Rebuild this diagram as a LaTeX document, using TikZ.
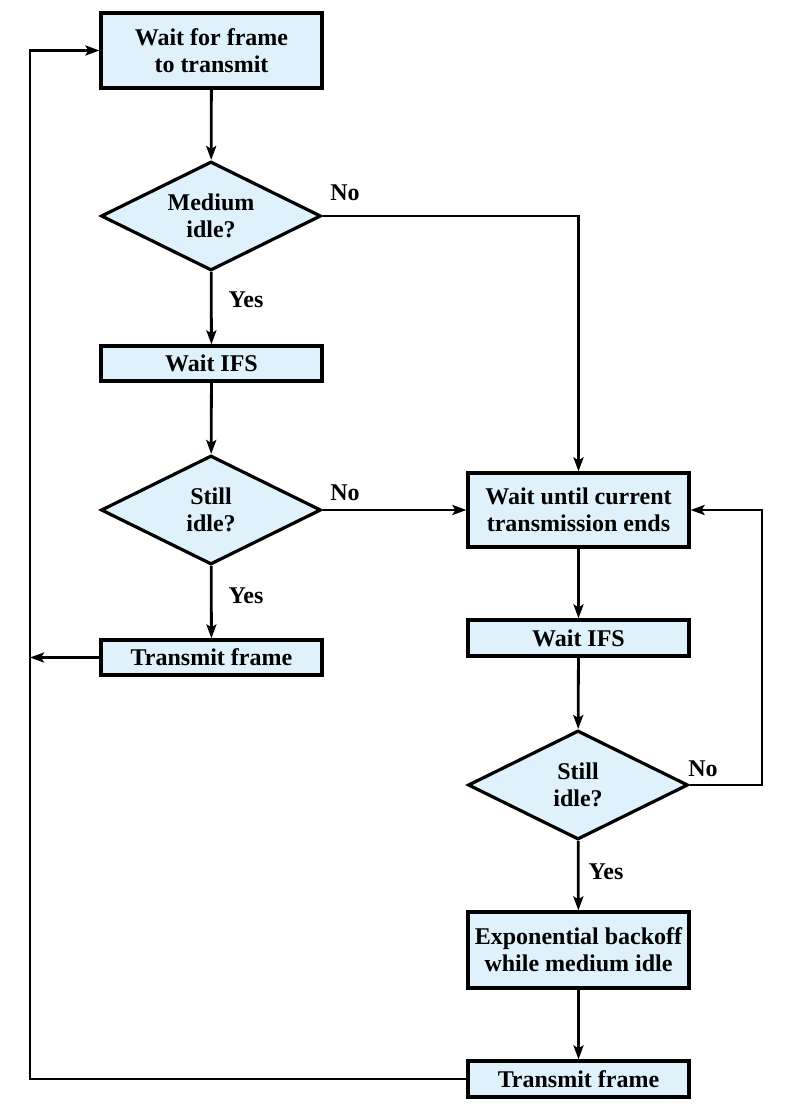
\documentclass[tikz,border=0pt]{standalone}
\usepackage{fontspec}
\setmainfont{Liberation Serif}
\usetikzlibrary{shapes.geometric,arrows.meta}
\definecolor{boxfill}{HTML}{DFF1FB}
\begin{document}
\begin{tikzpicture}[x=1pt,y=-1pt,
  every node/.style={font=\fontsize{24}{27}\selectfont\bfseries, align=center},
  procbox/.style={draw, line width=3.2pt, fill=boxfill, minimum width=221pt, inner sep=0pt},
  decbox/.style={draw, line width=3.2pt, fill=boxfill, diamond, aspect=2, minimum width=220pt, minimum height=109pt, inner sep=0pt},
  lbl/.style={font=\fontsize{24}{27}\selectfont\bfseries},
  arr/.style={line width=2.8pt, -{Stealth[length=14pt,width=10pt,inset=3pt]}},
  ln/.style={line width=2.8pt}
]
\path[use as bounding box] (0,0) rectangle (790,1108);
% left column
\node[procbox, minimum height=75pt] (b1) at (211.5,50.5) {Wait for frame\\to transmit};
\node[decbox] (d1) at (211,216) {Medium\\idle?};
\node[procbox, minimum height=35pt] (ifs1) at (211.5,363.5) {Wait IFS};
\node[decbox] (d2) at (211,510) {Still\\idle?};
\node[procbox, minimum height=35pt] (tx1) at (211.5,657.5) {Transmit frame};
% right column
\node[procbox, minimum height=74pt] (wu) at (578.5,510) {Wait until current\\transmission ends};
\node[procbox, minimum height=36pt] (ifs2) at (578.5,638) {Wait IFS};
\node[decbox] (d3) at (578,785) {Still\\idle?};
\node[procbox, minimum height=76pt] (eb) at (578.5,950) {Exponential backoff\\while medium idle};
\node[procbox, minimum height=36pt] (tx2) at (578.5,1079) {Transmit frame};
% helper coordinates
\coordinate (lb) at (30,1079);
\coordinate (rr) at (762,785);
% connectors
\draw[arr] (b1) -- (d1);
\draw[arr] (d1) -- (ifs1);
\draw[arr] (ifs1) -- (d2);
\draw[arr] (d2) -- (tx1);
\draw[arr] (d1.east) -| (wu.north);
\draw[arr] (d2.east) -- (wu.west);
\draw[arr] (wu) -- (ifs2);
\draw[arr] (ifs2) -- (d3);
\draw[arr] (d3) -- (eb);
\draw[arr] (eb) -- (tx2);
\draw[arr] (d3.east) -- (rr) |- (wu.east);
\draw[arr] (tx1.west) -- (tx1.west -| lb);
\draw[arr] (tx2.west) -- (lb) |- (b1.west);
% labels
\node[lbl] (n1) at (345,193) {No};
\node[lbl] (y1) at (246,300) {Yes};
\node[lbl] (n2) at (345,493) {No};
\node[lbl] (y2) at (246,596) {Yes};
\node[lbl] (n3) at (703,769) {No};
\node[lbl] (y3) at (606,872) {Yes};
\end{tikzpicture}
\end{document}
